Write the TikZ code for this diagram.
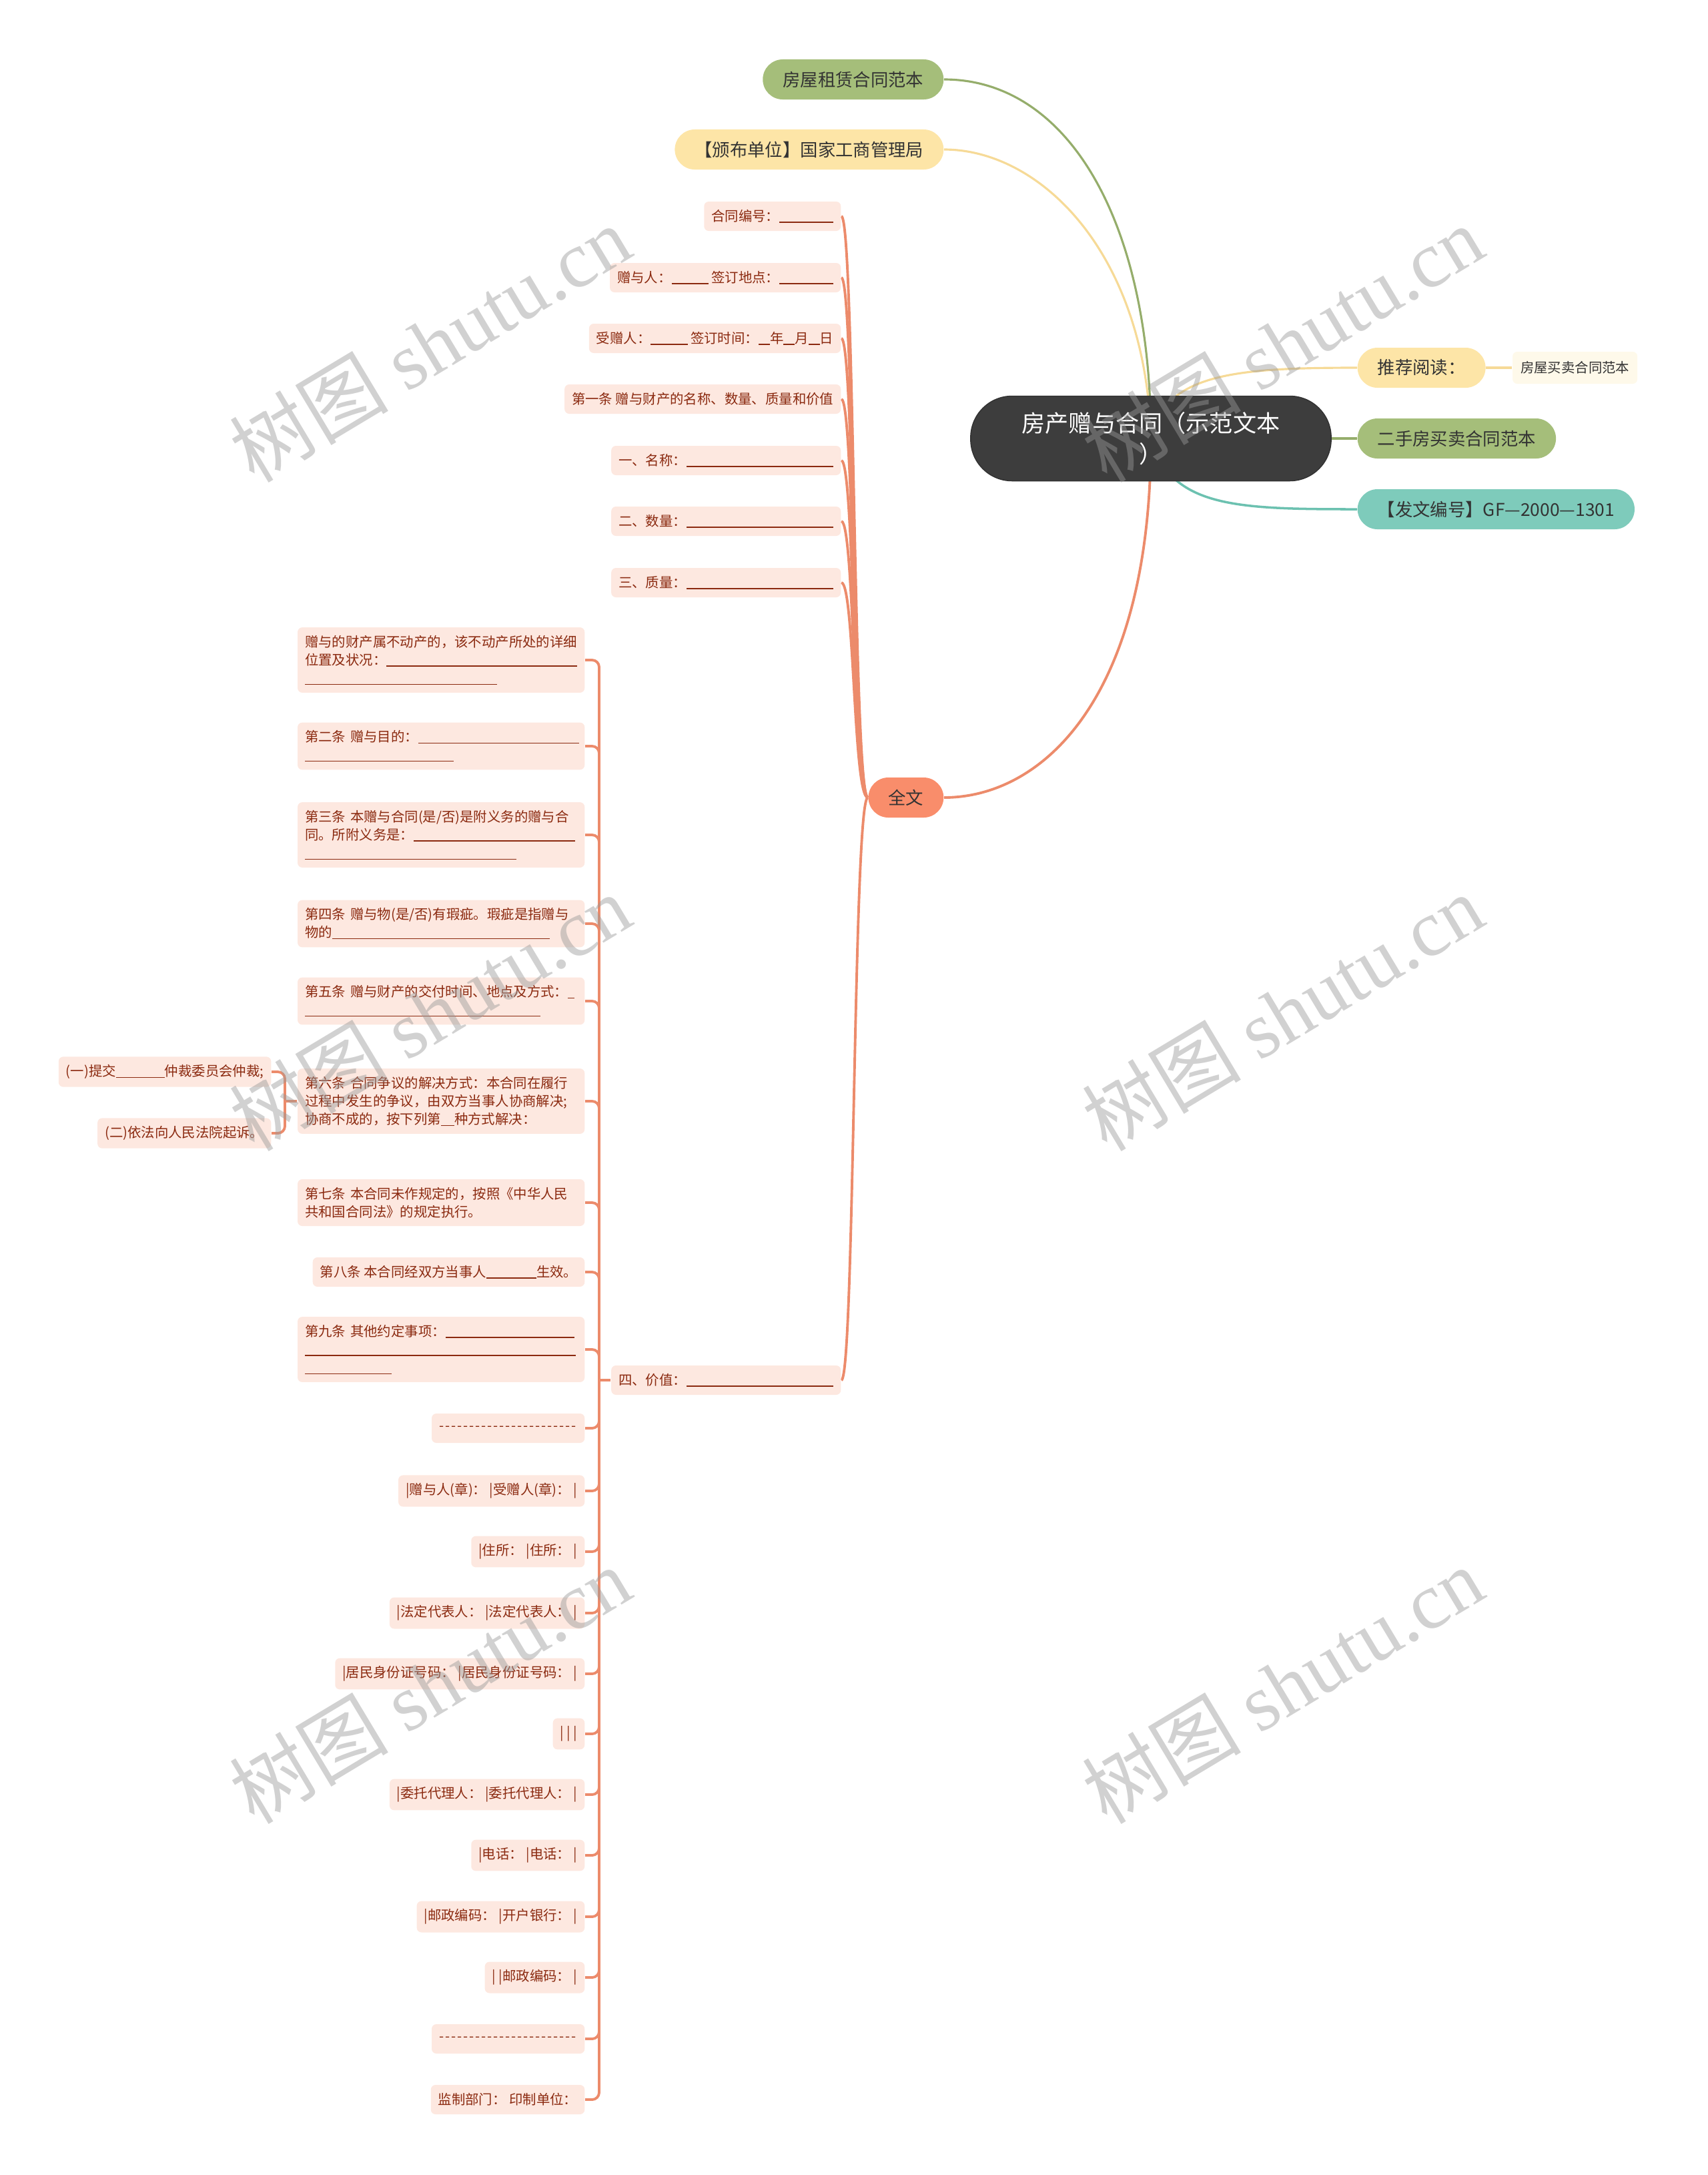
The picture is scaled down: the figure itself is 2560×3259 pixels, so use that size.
\documentclass[tikz,border=0pt]{standalone}
\usepackage{fontspec}
\setmainfont{Noto Sans CJK SC}
\newfontfamily\wmlatin{Liberation Serif}
\usetikzlibrary{positioning, backgrounds}
\definecolor{MapDark}{HTML}{3D3D3D}
\definecolor{MapGreen}{HTML}{A5BE7A}
\definecolor{MapGreenLine}{HTML}{95AD6B}
\definecolor{MapYellow}{HTML}{FDE5A7}
\definecolor{MapYellowLine}{HTML}{F6DA97}
\definecolor{MapTeal}{HTML}{7ECBBB}
\definecolor{MapTealLine}{HTML}{6CC1B0}
\definecolor{MapOrange}{HTML}{F98D6B}
\definecolor{MapOrangeLine}{HTML}{EC8B6B}
\definecolor{MapPale}{HTML}{FDE8E0}
\definecolor{MapCream}{HTML}{FEF9EA}
\definecolor{MapText}{HTML}{8B2A10}
\newcommand\ublank[1]{\rule[-0.12em]{#1}{0.4pt}}
\newcommand\dashrow{\foreach \k in {1,...,23}{-\kern0.55pt}}
\tikzset{
    % central and main topics
    root topic/.style={
        rectangle,
        rounded corners=0.62cm,
        fill=MapDark,
        draw=MapDark!80!black,
        text=white,
        text width=4cm,
        align=center,
        inner xsep=0.7cm,
        minimum height=1.27cm,
        font=\fontsize{10pt}{13pt}\selectfont
    },
    main topic/.style={
        rectangle,
        rounded corners=0.3cm,
        minimum height=0.6cm,
        inner xsep=0.3cm,
        inner ysep=0pt,
        text=black!80,
        font=\fontsize{7.5pt}{9pt}\selectfont
    },
    topic green/.style={main topic, fill=MapGreen},
    topic yellow/.style={main topic, fill=MapYellow},
    topic teal/.style={main topic, fill=MapTeal},
    topic orange/.style={main topic, fill=MapOrange},
    leaf cream/.style={
        rectangle,
        rounded corners=2pt,
        fill=MapCream,
        minimum height=0.48cm,
        inner xsep=0.12cm,
        text=black!80,
        font=\fontsize{5.8pt}{7pt}\selectfont
    },
    % subtopics of the full text
    sub topic/.style={
        rectangle,
        rounded corners=2pt,
        fill=MapPale,
        text=MapText,
        anchor=east,
        minimum height=0.44cm,
        inner xsep=0.11cm,
        inner ysep=0.12cm,
        font=\fontsize{5.8pt}{7.7pt}\selectfont
    },
    long topic/.style={sub topic, text width=4.08cm, align=left},
    % connectors
    green line/.style={MapGreenLine, line width=0.9pt},
    yellow line/.style={MapYellowLine, line width=0.9pt},
    teal line/.style={MapTealLine, line width=1pt},
    branch/.style={MapOrangeLine, line width=1.1pt},
    elbow/.style={branch, rounded corners=3pt},
    watermark/.style={
        text=black!40,
        opacity=0.45,
        rotate=31,
        font=\fontsize{34pt}{40pt}\selectfont
    }
}
\begin{document}
\begin{tikzpicture}[x=0.01cm, y=-0.01cm]
    \useasboundingbox (0,0) rectangle (2560,3259);

    % Central topic
    \node[root topic] (root) at (1725,657) {房产赠与合同（示范文本\\）};

    % Main topics
    \node[topic green, anchor=east] (zulin) at (1415,119) {房屋租赁合同范本};
    \node[topic yellow, anchor=east] (banbu) at (1415,224) {【颁布单位】国家工商管理局};
    \node[topic yellow, anchor=west] (tuijian) at (2034,551) {推荐阅读：};
    \node[leaf cream, right=0.39cm of tuijian] (maimai) {房屋买卖合同范本};
    \node[topic green, anchor=west] (ershou) at (2034,657) {二手房买卖合同范本};
    \node[topic teal, anchor=west] (fawen) at (2034,763) {【发文编号】GF—2000—1301};
    \node[topic orange, anchor=east] (quanwen) at (1415,1195) {全文};

    % Contract head
    \node[sub topic] (bianhao) at (1261,324) {合同编号：\ublank{0.81cm}};
    \node[sub topic] (zengyu) at (1261,416) {赠与人：\ublank{0.55cm} 签订地点：\ublank{0.81cm}};
    \node[sub topic] (shouzeng) at (1261,507) {受赠人：\ublank{0.55cm} 签订时间：\ublank{0.17cm}年\ublank{0.17cm}月\ublank{0.17cm}日};
    \node[sub topic] (tiao1) at (1261,598) {第一条 赠与财产的名称、数量、质量和价值};
    \node[sub topic] (mingcheng) at (1261,690) {一、名称：\ublank{2.2cm}};
    \node[sub topic] (shuliang) at (1261,781) {二、数量：\ublank{2.2cm}};
    \node[sub topic] (zhiliang) at (1261,873) {三、质量：\ublank{2.2cm}};
    \node[sub topic] (jiazhi) at (1261,2068) {四、价值：\ublank{2.2cm}};

    % Articles
    \node[long topic] (budong) at (877,989) {赠与的财产属不动产的，该不动产所处的详细\\位置及状况：\ublank{2.85cm}\\\ublank{2.88cm}};
    \node[long topic] (tiao2) at (877,1118) {第二条~赠与目的：\ublank{2.41cm}\\\ublank{2.23cm}};
    \node[long topic] (tiao3) at (877,1251) {第三条~本赠与合同(是/否)是附义务的赠与合\\同。所附义务是：\ublank{2.42cm}\\\ublank{3.17cm}};
    \node[long topic] (tiao4) at (877,1384) {第四条~赠与物(是/否)有瑕疵。瑕疵是指赠与\\物的\ublank{3.26cm}};
    \node[long topic] (tiao5) at (877,1500) {第五条~赠与财产的交付时间、地点及方式：\ublank{0.1cm}\\\ublank{3.53cm}};
    \node[long topic] (tiao6) at (877,1650) {第六条~合同争议的解决方式：本合同在履行\\过程中发生的争议，由双方当事人协商解决;\\协商不成的，按下列第\ublank{0.2cm}种方式解决：};
    \node[long topic] (tiao7) at (877,1802) {第七条~本合同未作规定的，按照《中华人民\\共和国合同法》的规定执行。};
    \node[sub topic] (tiao8) at (877,1906) {第八条 本合同经双方当事人\ublank{0.75cm}生效。};
    \node[long topic] (tiao9) at (877,2022) {第九条~其他约定事项：\ublank{1.93cm}\\\ublank{4.06cm}\\\ublank{1.3cm}};

    % Dispute options
    \node[sub topic] (zhongcai) at (407,1606) {(一)提交\ublank{0.73cm}仲裁委员会仲裁;};
    \node[sub topic] (susong) at (407,1698) {(二)依法向人民法院起诉。};

    % Signature table
    \node[sub topic] (fen1) at (877,2140) {\dashrow};
    \node[sub topic] (qian1) at (877,2234) {|赠与人(章)：\ |受赠人(章)：\ |};
    \node[sub topic] (qian2) at (877,2325) {|住所：\ |住所：\ |};
    \node[sub topic] (qian3) at (877,2417) {|法定代表人：\ |法定代表人：\ |};
    \node[sub topic] (qian4) at (877,2508) {|居民身份证号码：\ |居民身份证号码：\ |};
    \node[sub topic] (qian5) at (877,2598) {| | |};
    \node[sub topic] (qian6) at (877,2689) {|委托代理人：\ |委托代理人：\ |};
    \node[sub topic] (qian7) at (877,2780) {|电话：\ |电话：\ |};
    \node[sub topic] (qian8) at (877,2872) {|邮政编码：\ |开户银行：\ |};
    \node[sub topic] (qian9) at (877,2963) {| |邮政编码：\ |};
    \node[sub topic] (fen2) at (877,3055) {\dashrow};
    \node[sub topic] (jianzhi) at (877,3146) {监制部门：\ 印制单位：};

    \coordinate (jzspine) at (898,2068);
    \coordinate (l6spine) at (427,1650);

    % Connectors
    \begin{scope}[on background layer]
        \draw[green line] (root.center) .. controls (1725,330) and (1600,119) .. (zulin.east);
        \draw[yellow line] (root.center) .. controls (1718,380) and (1560,224) .. (banbu.east);
        \draw[yellow line] (root.center) .. controls (1745,560) and (1850,551) .. (tuijian.west);
        \draw[yellow line] (tuijian.east) -- (maimai.west);
        \draw[green line] (root.east) -- (ershou.west);
        \draw[teal line] (root.center) .. controls (1755,760) and (1850,763) .. (fawen.west);
        \draw[branch] (root.center) .. controls (1725,1050) and (1560,1195) .. (quanwen.east);
        \foreach \n in {bianhao,zengyu,shouzeng,tiao1,mingcheng,shuliang,zhiliang,jiazhi}
            \draw[branch] (quanwen.west) .. controls +(-22,0) and +(20,0) .. (\n.east);
        \draw[branch] (jiazhi.west) -- (jzspine);
        \foreach \n in {budong,tiao2,tiao3,tiao4,tiao5,tiao6,tiao7,tiao8,tiao9,fen1,qian1,qian2,qian3,qian4,qian5,qian6,qian7,qian8,qian9,fen2,jianzhi}
            \draw[elbow] (jzspine) |- (\n.east);
        \draw[branch] (tiao6.west) -- (l6spine);
        \draw[elbow] (l6spine) |- (zhongcai.east);
        \draw[elbow] (l6spine) |- (susong.east);
    \end{scope}

    % Watermarks
    \node[watermark] (wm1) at (644,515) {树图 {\wmlatin shutu.cn}};
    \node[watermark] (wm2) at (1922,515) {树图 {\wmlatin shutu.cn}};
    \node[watermark] (wm3) at (644,1517) {树图 {\wmlatin shutu.cn}};
    \node[watermark] (wm4) at (1922,1517) {树图 {\wmlatin shutu.cn}};
    \node[watermark] (wm5) at (644,2525) {树图 {\wmlatin shutu.cn}};
    \node[watermark] (wm6) at (1922,2525) {树图 {\wmlatin shutu.cn}};
\end{tikzpicture}
\end{document}
